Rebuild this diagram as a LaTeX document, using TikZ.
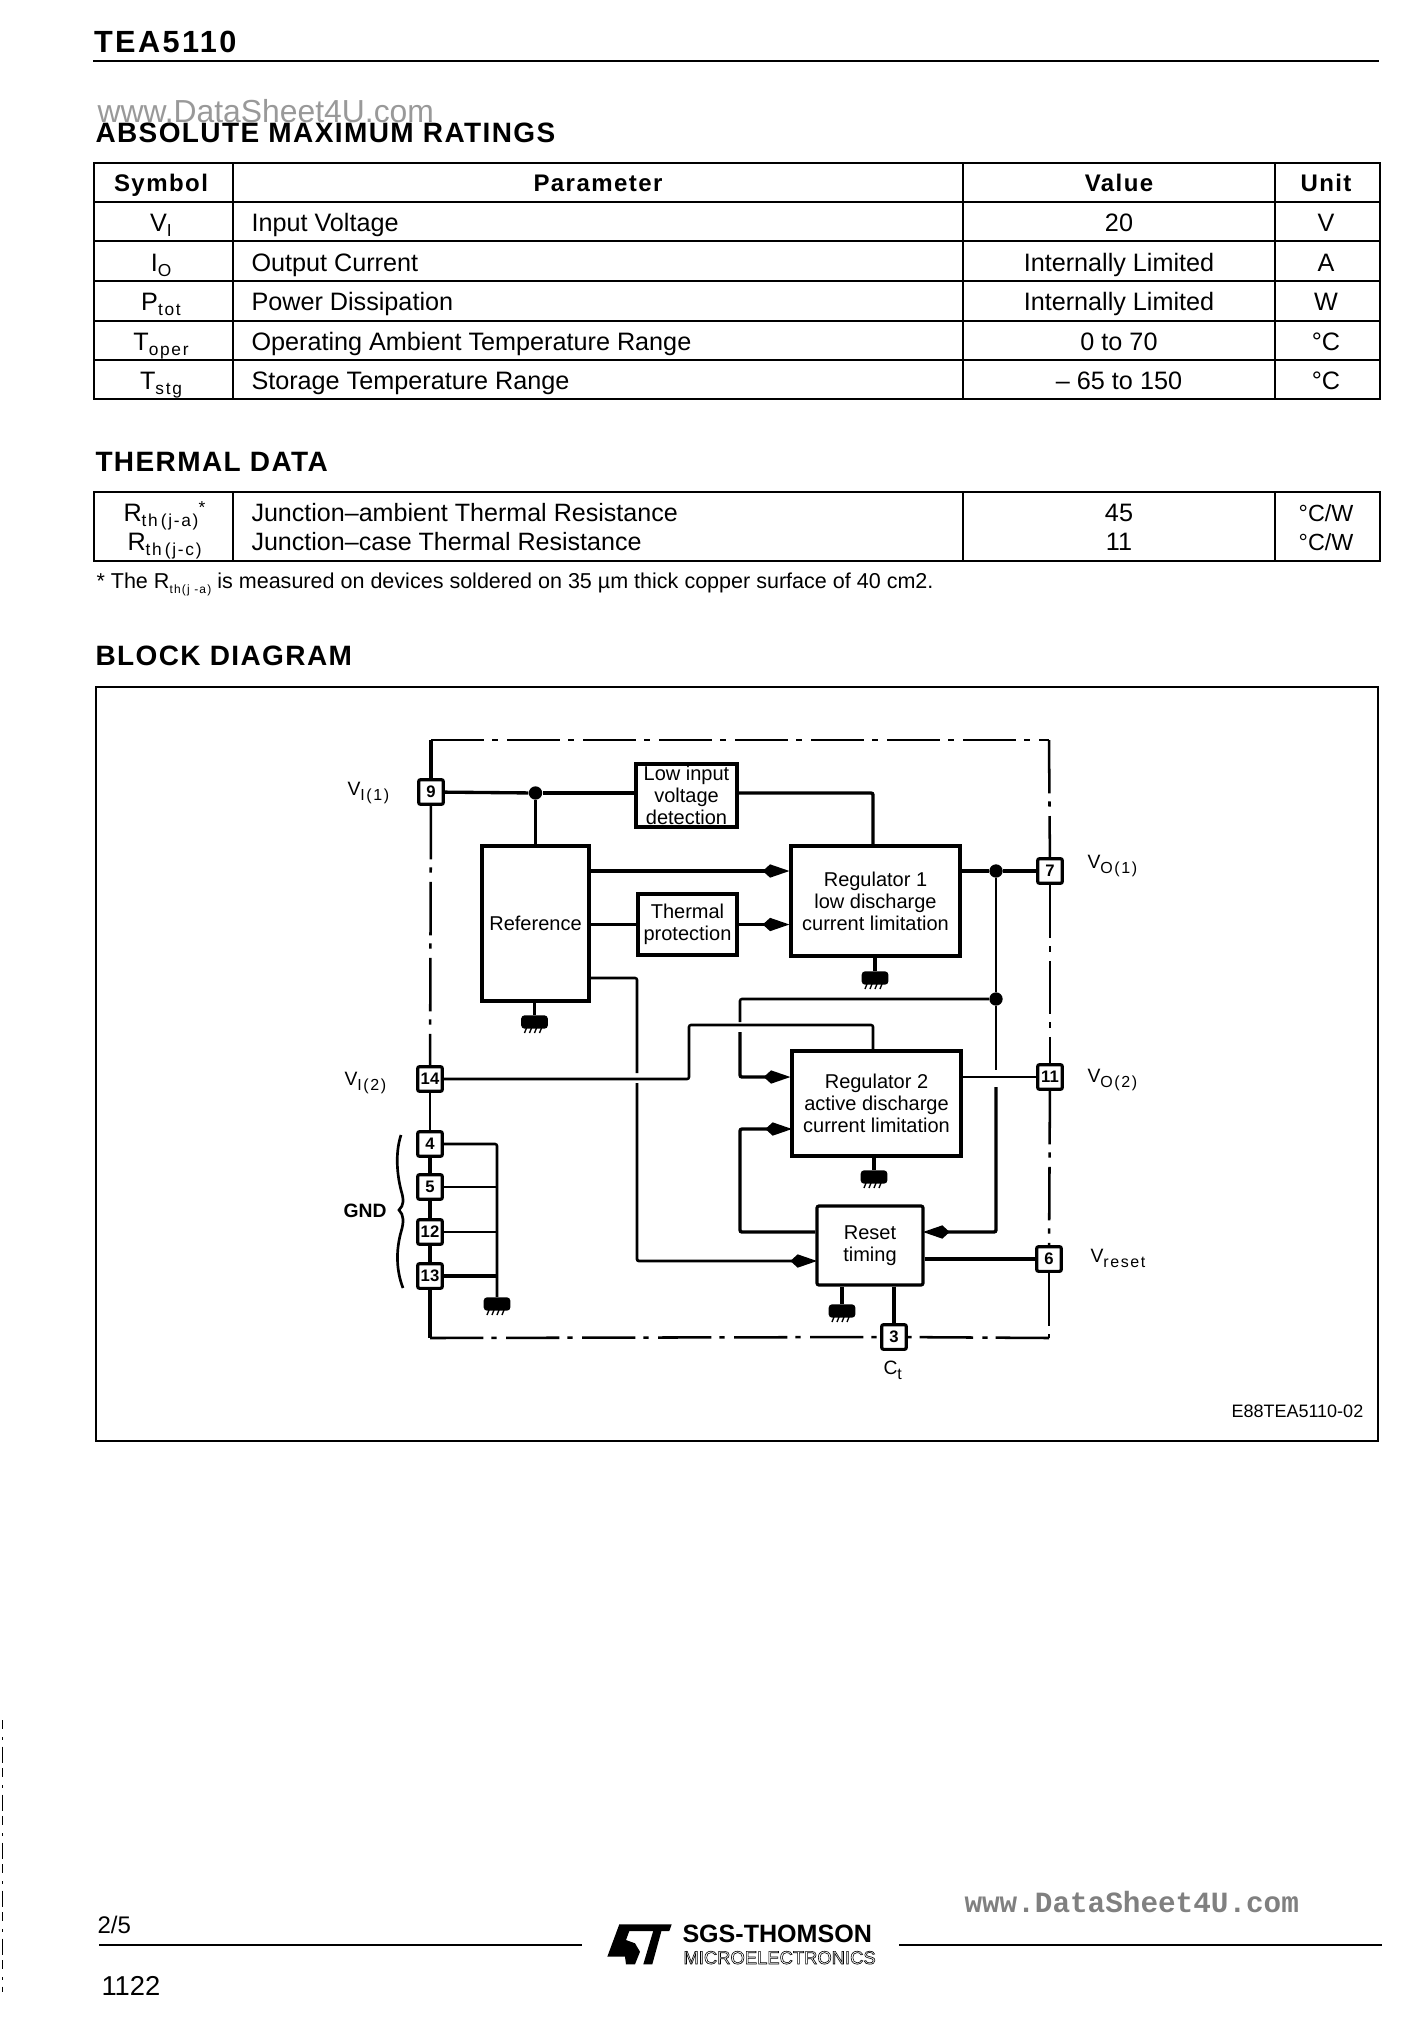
\documentclass[tikz,border=0pt]{standalone}
\usepackage{fontspec}
\setmainfont{Liberation Sans}
\newfontfamily\headfont[LetterSpace=5]{Liberation Sans}
\newfontfamily\widefont[LetterSpace=6]{Liberation Sans}
\newfontfamily\markfont{Liberation Mono}
\usetikzlibrary{arrows.meta}
\newcommand{\low}[2][13]{\raisebox{-4pt}{\fontsize{#1}{#1}\selectfont\addfontfeature{LetterSpace=10}#2}}
\newcommand{\outlined}[1]{\special{pdf:code 1 Tr 0.45 w}#1\special{pdf:code 0 Tr}}
\tikzset{every picture/.style={line width=0.75pt}}
\tikzset{
headtext/.style={anchor=base west,inner sep=0pt,font=\headfont\bfseries\fontsize{21}{24}\selectfont},
celltext/.style={anchor=base,inner sep=0pt,font=\fontsize{18.9}{22}\selectfont},
leftcell/.style={celltext,anchor=base west},
bosshead/.style={anchor=base,inner sep=0pt,font=\widefont\bfseries\fontsize{18}{22}\selectfont},
tableline/.style={line width=1.5pt},
framebox/.style={line width=1.5pt},
blockbox/.style={draw,fill=white,line width=2.4pt,inner sep=0pt,align=center,font=\fontsize{15}{16.5}\selectfont},
pinbox/.style={draw,fill=white,line width=2.4pt,rounded corners=1.5pt,minimum size=18.5pt,inner sep=0pt,font=\bfseries\fontsize{12.5}{12.5}\selectfont},
pinlabel/.style={anchor=base west,inner sep=0pt,font=\fontsize{14.5}{16}\selectfont},
dotnode/.style={circle,fill,inner sep=0pt,minimum size=10pt},
wire/.style={line width=2.5pt,rounded corners=1.5pt},
thinwire/.style={line width=1.9pt,rounded corners=1.5pt},
flow/.style={wire,-{Kite[length=20pt,width=10pt,inset=5.5pt]}},
boundary/.style={line width=1.9pt,dash pattern=on 40pt off 6pt on 4pt off 7pt},
gndblob/.style={fill,rounded corners=2.5pt,minimum width=20pt,minimum height=10pt,inner sep=0pt}
}
\newcommand{\gndmark}[3]{%
\draw (#2,#3) node (#1) [gndblob] {};
\foreach \k in {-8,-3,2,7} \draw [line width=1pt] ({#2+\k},{#3+6}) -- ++(-2,5);
}
\begin{document}
\begin{tikzpicture}[x=0.75pt,y=0.75pt,yscale=-1,xscale=1]
\useasboundingbox (0,0) rectangle (1413,2027);

% Text Node
\draw (93.5,52) node (partname) [anchor=base west,inner sep=0pt,font=\headfont\bfseries\addfontfeature{LetterSpace=8}\fontsize{23}{26}\selectfont] {TEA5110};
%Straight Lines
\draw [line width=1.5pt] (93,61) -- (1379,61);
% Text Node
\draw (97,122) node (sitemarktop) [anchor=base west,inner sep=0pt,text=black!40,font=\fontsize{23.9}{26}\selectfont] {www.DataSheet4U.com};
\draw (95,142) node (ratingshead) [headtext] {ABSOLUTE MAXIMUM RATINGS};

%Shape: Table
\draw [tableline] (94,162.5) rectangle (1379.5,399);
\foreach \y in {202,241,281,320.5,360} \draw [tableline] (94,\y) -- (1379.5,\y);
\foreach \x in {233,963,1275} \draw [tableline] (\x,162.5) -- (\x,399);
% Text Node
\draw (161,191.5) node (symbolhead) [bosshead] {Symbol};
\draw (598,191.5) node (paramhead) [bosshead] {Parameter};
\draw (1119,191.5) node (valuehead) [bosshead] {Value};
\draw (1326,191.5) node (unithead) [bosshead] {Unit};
\foreach \i/\symb/\pname/\pval/\punit/\yb in {
1/{V\low{I}}/Input Voltage/20/V/231,
2/{I\low{O}}/Output Current/Internally Limited/A/271,
3/{P\low{tot}}/Power Dissipation/Internally Limited/W/310.5,
4/{T\low{oper}}/Operating Ambient Temperature Range/0 to 70/°C/350,
5/{T\low{stg}}/Storage Temperature Range/– 65 to 150/°C/389.5}
{
\draw (161,\yb) node (symb\i) [celltext] {\symb};
\draw (251,\yb) node (param\i) [leftcell] {\pname};
\draw (1119,\yb) node (value\i) [celltext] {\pval};
\draw (1326,\yb) node (unit\i) [celltext] {\punit};
}

% Text Node
\draw (95,471) node (thermalhead) [headtext] {THERMAL DATA};
%Shape: Table
\draw [tableline] (94,492) rectangle (1379.5,560.5);
\foreach \x in {233,963,1275} \draw [tableline] (\x,492) -- (\x,560.5);
% Text Node
\draw (123,521) node (rthja) [leftcell] {R\low{th\,(j-a)}\raisebox{6pt}{\fontsize{13}{13}\selectfont *}};
\draw (127,550) node (rthjc) [leftcell] {R\low{th\,(j-c)}};
\draw (251,521) node (thermparama) [leftcell,font=\fontsize{18.8}{22}\selectfont] {Junction–ambient Thermal Resistance};
\draw (251,550) node (thermparamc) [leftcell,font=\fontsize{18.8}{22}\selectfont] {Junction–case Thermal Resistance};
\draw (1119,521) node (thermvala) [celltext] {45};
\draw (1119,550) node (thermvalc) [celltext] {11};
\draw (1326,521) node (thermunita) [celltext,font=\fontsize{17.5}{20}\selectfont] {°C/W};
\draw (1326,550) node (thermunitc) [celltext,font=\fontsize{17.5}{20}\selectfont] {°C/W};
\draw (96,588) node (footnote) [anchor=base west,inner sep=0pt,font=\fontsize{16.15}{18}\selectfont] {* The R\low[9]{th(j -a)} is measured on devices soldered on 35 µm thick copper surface of 40 cm2.};

\draw (95,665) node (blockhead) [headtext] {BLOCK DIAGRAM};
%Shape: Rectangle
\draw [framebox] (96,686.5) rectangle (1378,1441);

%Shape: Blocks
\draw (686.5,795.5) node (lowinput) [blockbox,minimum width=75.75pt,minimum height=47.25pt] {Low input\\voltage\\detection};
\draw (535.5,923.5) node (reference) [blockbox,minimum width=80.25pt,minimum height=116.25pt] {Reference};
\draw (687.5,924.5) node (thermal) [blockbox,minimum width=74.25pt,minimum height=45.75pt] {Thermal\\protection};
\draw (875.5,901) node (regone) [blockbox,minimum width=126.75pt,minimum height=82.5pt] {Regulator 1\\low discharge\\current limitation};
\draw (876.5,1103.5) node (regtwo) [blockbox,minimum width=126.75pt,minimum height=78.75pt] {Regulator 2\\active discharge\\current limitation};
\draw (870,1245.5) node (reset) [blockbox,rounded corners=1.5pt,minimum width=79.5pt,minimum height=59.25pt] {Reset\\timing};

%Shape: Pins
\draw (431,792) node (p9) [pinbox] {9};
\draw (430,1079) node (p14) [pinbox] {14};
\draw (430,1144) node (p4) [pinbox] {4};
\draw (430,1187) node (p5) [pinbox] {5};
\draw (430,1232) node (p12) [pinbox] {12};
\draw (430,1276) node (p13) [pinbox] {13};
\draw (1050,871) node (p7) [pinbox] {7};
\draw (1050,1077) node (p11) [pinbox] {11};
\draw (1049,1259) node (p6) [pinbox] {6};
\draw (894,1337) node (p3) [pinbox] {3};

%Shape: Junctions and grounds
\draw (535.5,793) node (jtop) [dotnode] {};
\draw (996,871) node (jout) [dotnode] {};
\draw (996,999) node (jloop) [dotnode] {};
\gndmark{gndref}{534.5}{1022}
\gndmark{gndregone}{875}{978}
\gndmark{gndregtwo}{874}{1177}
\gndmark{gndreset}{842}{1311}
\gndmark{gndmain}{497}{1304}

\coordinate (ctl) at (431,740);
\coordinate (ctr) at (1049,740);
\coordinate (cbl) at (430,1338);
\coordinate (cbr) at (1049,1338);
\coordinate (reflow) at (589,978);
\coordinate (hopa) at (637,1073);
\coordinate (hopb) at (637,1083);
\coordinate (resetin) at (817,1261);
\coordinate (crossturn) at (689,1025);
\coordinate (regonetop) at (873,846);
\coordinate (regtwotop) at (873,1051);
\coordinate (loopup) at (740,1022);
\coordinate (loopdown) at (740,1032);
\coordinate (hopc) at (996,1070);
\coordinate (hopd) at (996,1087);
\coordinate (resetfb) at (923,1232);
\coordinate (regtwoin) at (792,1129);

%Straight Lines
\draw [wire] (p9) -- (jtop);
\draw [wire] (jtop) -- (lowinput.west |- jtop);
\draw [wire] (jtop) -- (reference.north);
\draw [wire] (lowinput.east |- jtop) -| (regonetop);
\draw [flow] (reference.east |- p7) -- (regone.west |- p7);
\draw [wire] (reference.east |- thermal) -- (thermal.west);
\draw [flow] (thermal.east) -- (regone.west |- thermal);
\draw [thinwire] (reflow) -| (hopa);
\draw [flow,line width=2.1pt] (hopb) |- (resetin);
\draw [thinwire] (p14) -| (crossturn) -| (regtwotop);
\draw [thinwire] (jloop) -| (loopup);
\draw [flow] (loopdown) |- (regtwo.west |- p11);
\draw [wire] (regone.east |- p7) -- (jout);
\draw [wire] (jout) -- (p7);
\draw [thinwire] (jout) -- (jloop);
\draw [thinwire] (jloop) -- (hopc);
\draw [flow] (hopd) |- (resetfb);
\draw [thinwire] (regtwo.east |- p11) -- (p11);
\draw [flow] (reset.west |- resetfb) -| (loopdown |- regtwoin) -- (regtwoin);
\draw [wire] (reset.east |- p6) -- (p6);
\draw [wire,line width=3.2pt] (reset.south -| p3) -- (p3);
\draw [wire] (reference.south -| gndref) -- (gndref);
\draw [wire] (regone.south -| gndregone) -- (gndregone);
\draw [wire] (regtwo.south -| gndregtwo) -- (gndregtwo);
\draw [wire] (reset.south -| gndreset) -- (gndreset);
\draw [thinwire] (p4) -| (gndmain);
\draw [thinwire] (p5) -- (p5 -| gndmain);
\draw [thinwire] (p12) -- (p12 -| gndmain);
\draw [wire] (p13) -- (p13 -| gndmain);
\draw [wire] (p4) -- (p5);
\draw [wire] (p5) -- (p12);
\draw [wire] (p12) -- (p13);
\draw [wire] (p13) -- (cbl);
\draw [wire] (p9) -- (ctl);
\draw [boundary] (ctl) -- (ctr);
\draw [boundary] (ctr) -- (p7);
\draw [boundary] (p7) -- (p11);
\draw [boundary] (p11) -- (p6);
\draw [boundary] (p6) -- (cbr);
\draw [boundary] (cbr) -- (p3);
\draw [boundary] (cbl) -- (p3);
\draw [boundary] (p9) -- (p14);
\draw [boundary] (p14) -- (p4);

%Curve Lines
\draw [line width=2pt] (401,1135) .. controls (396,1150) and (396,1170) .. (401,1190) .. controls (404,1200) and (404,1205) .. (399,1210) .. controls (404,1215) and (404,1222) .. (401,1232) .. controls (396,1250) and (396,1270) .. (403,1288);

% Text Node
\draw (347,795) node (vione) [pinlabel] {V\low[12]{I(1)}};
\draw (344,1085) node (vitwo) [pinlabel] {V\low[12]{I(2)}};
\draw (1087,868) node (voone) [pinlabel] {V\low[12]{O(1)}};
\draw (1087,1082) node (votwo) [pinlabel] {V\low[12]{O(2)}};
\draw (1090,1262) node (vreset) [pinlabel] {V\low[12]{reset}};
\draw (883,1374) node (ct) [pinlabel] {C\low[12]{t}};
\draw (343,1217) node (gndlabel) [pinlabel,font=\bfseries\fontsize{14.5}{16}\selectfont] {GND};
\draw (1231,1417) node (drawingcode) [anchor=base west,inner sep=0pt,font=\fontsize{13.5}{15}\selectfont] {E88TEA5110-02};

%Straight Lines
\draw [line width=1.5pt] (99,1945) -- (582,1945);
\draw [line width=1.5pt] (899,1945) -- (1382,1945);
%Shape: Polygon
\fill (619.3,1924.3) -- (671.7,1924.3) -- (669.3,1931) -- (629.3,1931) -- (626,1940) -- (635,1943.3) -- (640,1951.7) -- (635,1964.3) -- (626,1964.3) -- (625,1956.7) -- (607.3,1956.7) -- cycle;
\fill (653.5,1930) -- (661.7,1930) -- (652.3,1964.3) -- (643.3,1964.3) -- cycle;
% Text Node
\draw (97,1933) node (pagenum) [anchor=base west,inner sep=0pt,font=\fontsize{18}{20}\selectfont] {2/5};
\draw (101,1995) node (ordernum) [anchor=base west,inner sep=0pt,font=\fontsize{20.5}{23}\selectfont] {1122};
\draw (682,1942) node (brandtop) [anchor=base west,inner sep=0pt,font=\bfseries\fontsize{18.8}{20}\selectfont] {SGS-THOMSON};
\draw (683,1964) node (brandlow) [anchor=base west,inner sep=0pt,font=\fontsize{13.8}{15}\selectfont] {\outlined{MICROELECTRONICS}};
\draw (964,1912) node (sitemarkbottom) [anchor=base west,inner sep=0pt,text=black!50,font=\markfont\bfseries\fontsize{22}{24}\selectfont] {www.DataSheet4U.com};

%Straight Lines
\draw [line width=0.8pt,dash pattern=on 7pt off 6pt on 2pt off 5pt on 12pt off 4pt] (2.5,1720) -- (2.5,1992);
\end{tikzpicture}
\end{document}
